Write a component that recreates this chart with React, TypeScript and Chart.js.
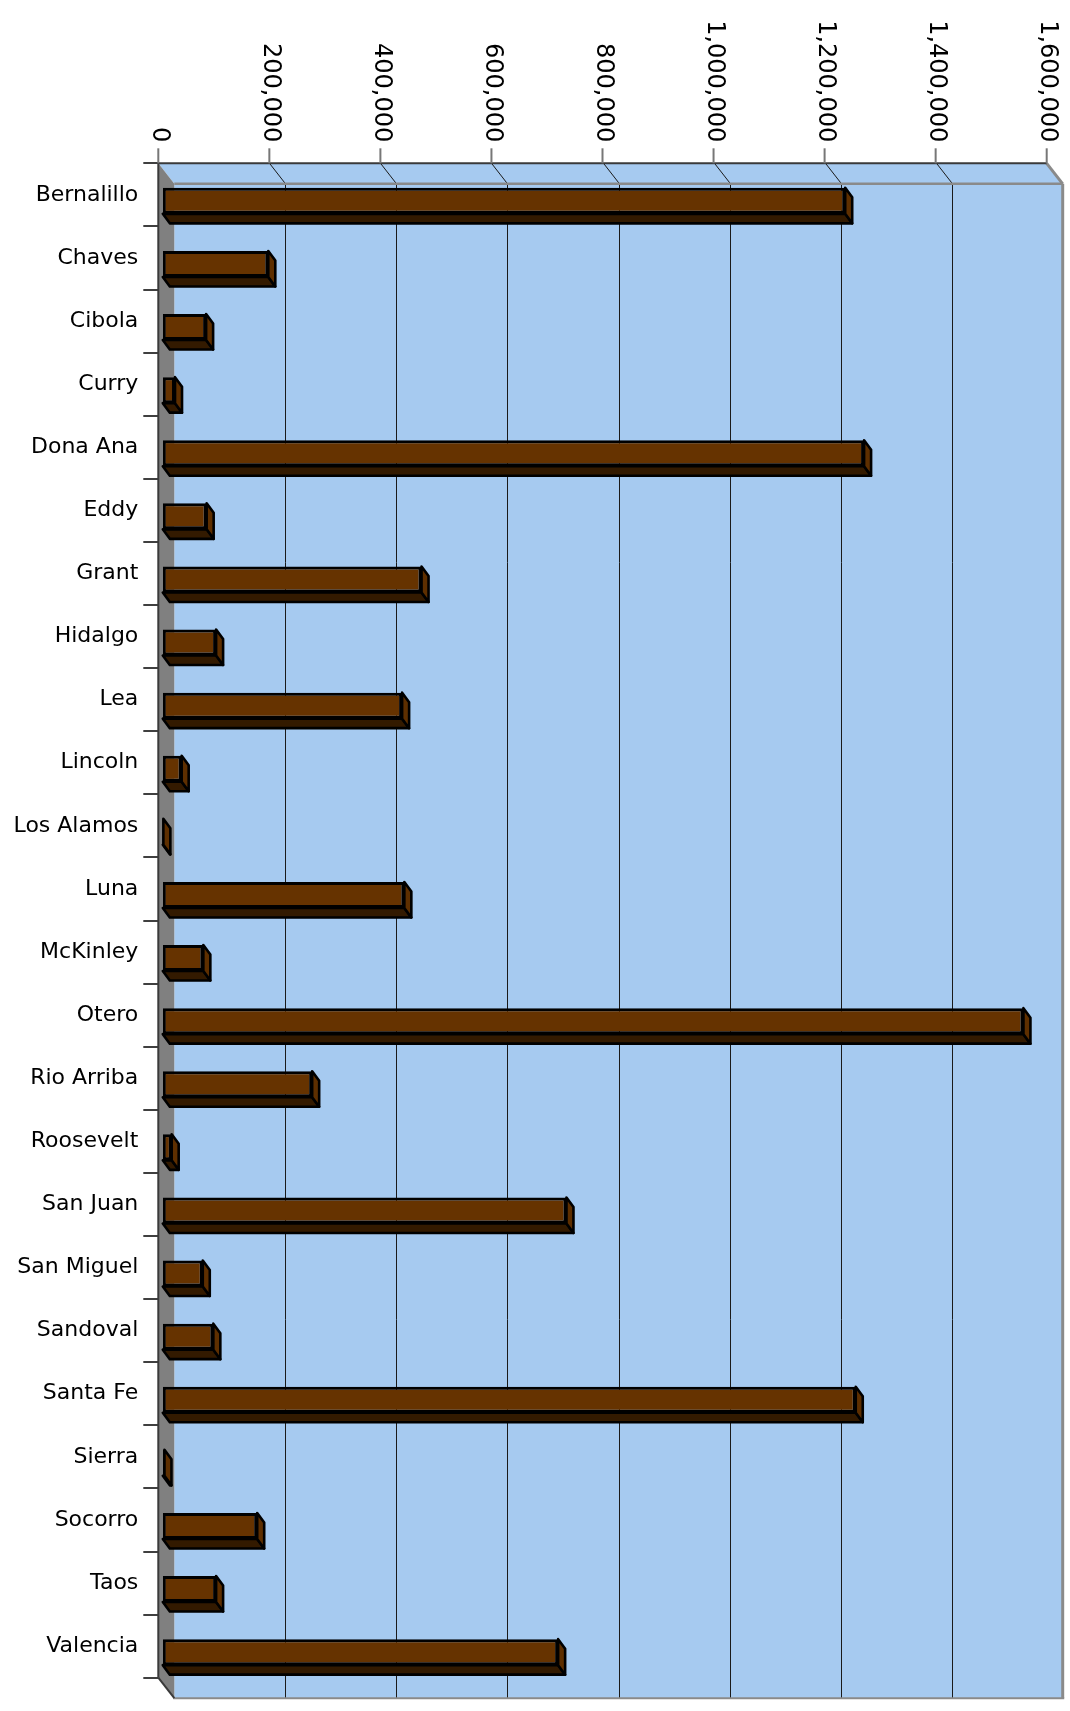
import React, { useEffect, useRef } from 'react';
import { Chart, registerables } from 'chart.js';

Chart.register(...registerables);

const categories = [
  'Bernalillo', 'Chaves', 'Cibola', 'Curry', 'Dona Ana', 'Eddy', 'Grant', 'Hidalgo',
  'Lea', 'Lincoln', 'Los Alamos', 'Luna', 'McKinley', 'Otero', 'Rio Arriba', 'Roosevelt',
  'San Juan', 'San Miguel', 'Sandoval', 'Santa Fe', 'Sierra', 'Socorro', 'Taos', 'Valencia',
];

const values = [
  1229000, 190000, 78000, 22000, 1263000, 79000, 466000, 96000,
  431000, 34000, 1000, 435000, 73000, 1550000, 269000, 16000,
  727000, 72000, 91000, 1248000, 3000, 170000, 96000, 712000,
];

const tickValues = [0, 200000, 400000, 600000, 800000, 1000000, 1200000, 1400000, 1600000];
const tickLabels = ['0', '200,000', '400,000', '600,000', '800,000', '1,000,000', '1,200,000', '1,400,000', '1,600,000'];

const AXIS_MAX = 1600000;

// styling
const BLUE = '#A6CAF0';
const WALL_GREY = '#808080';
const BAR_FRONT = '#663300';
const BAR_SIDE = '#5E2F00';
const BAR_BOTTOM = '#331A00';
const FONT = 'DejaVu Sans';

// 3D geometry (pixels)
const WDX = 16;
const WDY = 20.5;
const SX = 4.5;
const SY = 6;
const BDX = 7;
const BDY = 9.5;

function poly(ctx: CanvasRenderingContext2D, pts: number[][]) {
  ctx.beginPath();
  ctx.moveTo(pts[0][0], pts[0][1]);
  for (let i = 1; i < pts.length; i++) ctx.lineTo(pts[i][0], pts[i][1]);
  ctx.closePath();
}

function line(ctx: CanvasRenderingContext2D, x1: number, y1: number, x2: number, y2: number) {
  ctx.beginPath();
  ctx.moveTo(x1, y1);
  ctx.lineTo(x2, y2);
  ctx.stroke();
}

const box3d = {
  id: 'box3d',
  beforeDatasetsDraw(chart: any) {
    const { ctx, chartArea: a } = chart;
    const xs = chart.scales.x;
    const L = a.left, T = a.top, R = a.right, B = a.bottom;
    const bL = L + WDX, bT = T + WDY, bR = R + WDX, bB = B + WDY;
    ctx.save();
    // top face
    ctx.fillStyle = BLUE;
    poly(ctx, [[L, T], [R, T], [bR, bT], [bL, bT]]);
    ctx.fill();
    // back wall
    ctx.fillRect(bL, bT, bR - bL, bB - bT);
    // left floor
    ctx.fillStyle = WALL_GREY;
    poly(ctx, [[L, T], [bL, bT], [bL, bB], [L, B]]);
    ctx.fill();

    // gridlines
    ctx.strokeStyle = '#1a1a1a';
    ctx.lineWidth = 1;
    tickValues.forEach((v) => {
      if (v === 0 || v === AXIS_MAX) return;
      const px = Math.round(xs.getPixelForValue(v)) + 0.5;
      line(ctx, px, T, px + WDX, bT);
      line(ctx, px + WDX, bT, px + WDX, bB);
    });

    // back wall edges (grey)
    ctx.strokeStyle = '#8a8a8a';
    ctx.lineWidth = 2.5;
    line(ctx, bL, bT, bR, bT);
    ctx.lineWidth = 3;
    line(ctx, R, T, bR, bT);
    line(ctx, bR, bT, bR, bB);
    ctx.lineWidth = 2;
    line(ctx, bL - 1, bB, bR + 1.5, bB);

    // front edges (dark)
    ctx.strokeStyle = '#3a3a3a';
    ctx.lineWidth = 2;
    line(ctx, L, T, R, T);
    line(ctx, L, T - 1, L, B);
    line(ctx, L, B, bL, bB);

    // x axis tick marks
    ctx.strokeStyle = '#777777';
    ctx.lineWidth = 2;
    tickValues.forEach((v) => {
      const px = xs.getPixelForValue(v);
      line(ctx, px, T - 15, px, T);
    });

    // x axis tick labels, rotated 90deg clockwise, ending just above the ticks
    ctx.fillStyle = '#000';
    ctx.font = `24px "${FONT}"`;
    ctx.textAlign = 'right';
    ctx.textBaseline = 'middle';
    tickValues.forEach((v, i) => {
      const px = xs.getPixelForValue(v);
      ctx.save();
      ctx.translate(px + 1, T - 21);
      ctx.rotate(Math.PI / 2);
      ctx.fillText(tickLabels[i], 0, 0);
      ctx.restore();
    });

    // bar depth faces
    ctx.strokeStyle = '#000';
    ctx.lineWidth = 2.6;
    ctx.lineJoin = 'round';
    const meta = chart.getDatasetMeta(0);
    meta.data.forEach((bar: any) => {
      const p = bar.getProps(['x', 'y', 'base', 'height'], true);
      const xl = p.base + SX;
      const xr = p.x + SX;
      const yt = p.y - p.height / 2 + SY;
      const yb = p.y + p.height / 2 + SY;
      ctx.fillStyle = BAR_BOTTOM;
      poly(ctx, [[xl, yb], [xr, yb], [xr + BDX, yb + BDY], [xl + BDX, yb + BDY]]);
      ctx.fill();
      ctx.stroke();
      ctx.fillStyle = BAR_SIDE;
      poly(ctx, [[xr, yt], [xr + BDX, yt + BDY], [xr + BDX, yb + BDY], [xr, yb]]);
      ctx.fill();
      ctx.stroke();
    });
    ctx.restore();

    ctx.save();
    ctx.translate(SX, SY);
  },
  afterDatasetsDraw(chart: any) {
    chart.ctx.restore();
  },
};

export default function App() {
  const ref = useRef<HTMLCanvasElement | null>(null);

  useEffect(() => {
    if (!ref.current) return;
    const chart = new Chart(ref.current, {
      type: 'bar',
      data: {
        labels: categories,
        datasets: [
          {
            data: values,
            backgroundColor: BAR_FRONT,
            borderColor: '#000',
            borderWidth: 3,
            borderSkipped: false,
            barPercentage: 26 / 63.1,
            categoryPercentage: 1,
          } as any,
        ],
      },
      options: {
        indexAxis: 'y',
        responsive: false,
        animation: false,
        devicePixelRatio: 1,
        layout: { padding: { top: 163.3, right: 23.3, bottom: 33.3, left: 0 } },
        plugins: { legend: { display: false }, tooltip: { enabled: false } },
        scales: {
          x: { display: false, min: 0, max: AXIS_MAX },
          y: {
            display: true,
            offset: true,
            grid: {
              offset: true,
              drawOnChartArea: false,
              drawTicks: true,
              tickLength: 15,
              color: '#404040',
              lineWidth: 2,
            },
            border: { display: false },
            ticks: {
              font: { family: FONT, size: 22 },
              color: '#000',
              padding: 5,
            },
            afterFit: (s: any) => {
              s.width = 158.3;
            },
          },
        },
      } as any,
      plugins: [box3d],
    });
    return () => chart.destroy();
  }, []);

  return (
    <div style={{ position: 'absolute', left: 0, top: 0, width: 1070, height: 1711, background: '#fff' }}>
      <canvas ref={ref} width={1070} height={1711} style={{ display: 'block', width: 1070, height: 1711 }} />
    </div>
  );
}
